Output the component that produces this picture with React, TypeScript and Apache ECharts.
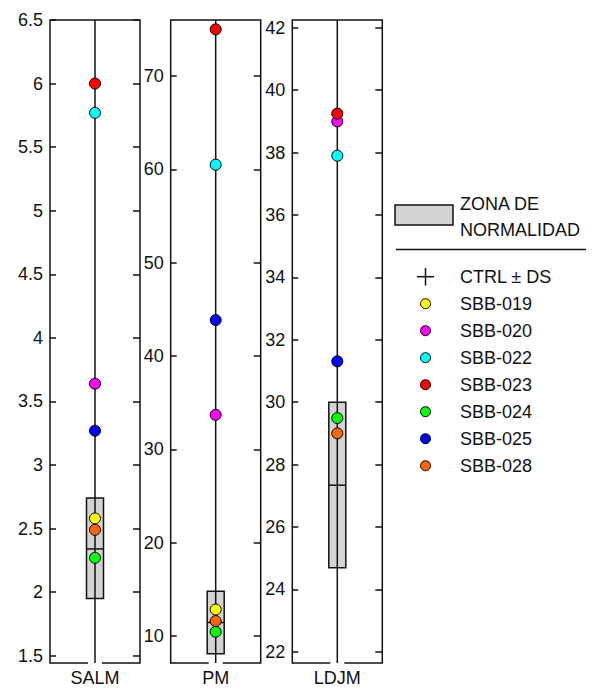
import React, { useEffect, useRef } from "react";
import * as echarts from "echarts";

const categories = ["SALM", "PM", "LDJM"];
const samples = ["SBB-019", "SBB-020", "SBB-022", "SBB-023", "SBB-024", "SBB-025", "SBB-028"];
const sampleColors = ["#ffff00", "#ff00ff", "#00ffff", "#ff0000", "#00ff00", "#0000ff", "#ff6600"];

const salmValues = [2.58, 3.64, 5.77, 6.0, 2.27, 3.27, 2.49];
const pmValues = [12.84, 33.7, 60.5, 75.0, 10.45, 43.85, 11.6];
const ldjmValues: (number | null)[] = [null, 39.0, 37.9, 39.25, 29.49, 31.31, 29.0];

const zoneLow = [1.95, 8.1, 24.69];
const zoneHigh = [2.74, 14.8, 30.0];
const ctrlMean = [2.34, 11.45, 27.34];

const salmTicks = [1.5, 2, 2.5, 3, 3.5, 4, 4.5, 5, 5.5, 6, 6.5];
const pmTicks = [10, 20, 30, 40, 50, 60, 70];
const ldjmTicks = [22, 24, 26, 28, 30, 32, 34, 36, 38, 40, 42];

const axisMin = [1.443, 7.11, 21.64];
const axisMax = [6.5, 76.0, 42.25];

const legendHeader = ["ZONA DE", "NORMALIDAD"];
const ctrlLabel = "CTRL ± DS";

const FONT = 'Arial, "Liberation Sans", sans-serif';
const INK = "#111";

export default function App() {
  const ref = useRef<HTMLDivElement>(null);
  useEffect(() => {
    if (!ref.current) return;
    const chart = echarts.init(ref.current, null, { renderer: "svg" });
    const valueSets = [salmValues, pmValues, ldjmValues];
    const tickSets = [salmTicks, pmTicks, ldjmTicks];
    const gridLefts = [50, 170.7, 292.3];

    const grids = gridLefts.map((l) => ({
      left: l,
      top: 20,
      width: 90,
      height: 643,
      show: true,
      borderColor: INK,
      borderWidth: 1.5,
      backgroundColor: "transparent",
    }));

    const xAxes = categories.map((c, i) => ({
      type: "category",
      gridIndex: i,
      data: [c],
      axisLine: { show: false },
      axisTick: { show: false },
      axisLabel: { color: INK, fontSize: 18, fontFamily: FONT, margin: 6 },
    }));

    const yAxes: any[] = [];
    categories.forEach((_, i) => {
      yAxes.push({
        type: "value",
        gridIndex: i,
        min: axisMin[i],
        max: axisMax[i],
        position: "left",
        splitLine: { show: false },
        axisLine: { show: false },
        axisTick: { show: true, inside: true, length: 6, customValues: tickSets[i], lineStyle: { color: INK, width: 1.5 } },
        axisLabel: { show: true, customValues: tickSets[i], color: INK, fontSize: 18, fontFamily: FONT, margin: 7 },
      });
      yAxes.push({
        type: "value",
        gridIndex: i,
        min: axisMin[i],
        max: axisMax[i],
        position: "right",
        splitLine: { show: false },
        axisLine: { show: false },
        axisTick: { show: true, inside: true, length: 7, customValues: tickSets[i], lineStyle: { color: INK, width: 1.5 } },
        axisLabel: { show: false },
      });
    });

    const series: any[] = [];
    categories.forEach((c, i) => {
      series.push({
        type: "custom",
        xAxisIndex: i,
        yAxisIndex: i * 2,
        z: 2,
        encode: { x: 0, y: [1, 2, 3] },
        data: [[0, zoneLow[i], zoneHigh[i], ctrlMean[i]]],
        renderItem: (params: any, api: any) => {
          const cs = params.coordSys;
          const pLow = api.coord([0, api.value(1)]);
          const pHigh = api.coord([0, api.value(2)]);
          const pMean = api.coord([0, api.value(3)]);
          const cx = pLow[0];
          const bottom = cs.y + cs.height;
          const hw = 8.5;
          return {
            type: "group",
            children: [
              { type: "rect", shape: { x: cx - 7, y: bottom - 2, width: 14, height: 4 }, style: { fill: "#fff" } },
              {
                type: "rect",
                shape: { x: cx - hw, y: pHigh[1], width: hw * 2, height: pLow[1] - pHigh[1] },
                style: { fill: "#d3d3d3", stroke: INK, lineWidth: 1.5 },
              },
              { type: "line", shape: { x1: cx, y1: cs.y, x2: cx, y2: bottom }, style: { stroke: INK, lineWidth: 1.5 } },
              { type: "line", shape: { x1: cx - hw, y1: pMean[1], x2: cx + hw, y2: pMean[1] }, style: { stroke: INK, lineWidth: 1.5 } },
            ],
          };
        },
      });
      const data: any[] = [];
      valueSets[i].forEach((v, j) => {
        if (v === null || v === undefined) return;
        data.push({ value: [0, v], itemStyle: { color: sampleColors[j] } });
      });
      series.push({
        type: "scatter",
        xAxisIndex: i,
        yAxisIndex: i * 2,
        z: 3,
        symbol: "circle",
        symbolSize: 11,
        itemStyle: { borderColor: "#000", borderWidth: 1, opacity: 1 },
        data,
      });
    });

    // Legend built from the sample arrays
    const lgX = 460;
    const graphic: any[] = [
      { type: "rect", shape: { x: 395, y: 205, width: 58, height: 20 }, style: { fill: "#d3d3d3", stroke: INK, lineWidth: 1.5 } },
      { type: "text", x: lgX, y: 203.5, style: { text: legendHeader[0], fill: INK, font: `18px ${FONT}`, textVerticalAlign: "middle" } },
      { type: "text", x: lgX, y: 229.5, style: { text: legendHeader[1], fill: INK, font: `18px ${FONT}`, textVerticalAlign: "middle" } },
      { type: "line", shape: { x1: 396, y1: 249.5, x2: 586, y2: 249.5 }, style: { stroke: INK, lineWidth: 1.5 } },
      { type: "line", shape: { x1: 417, y1: 276.7, x2: 434, y2: 276.7 }, style: { stroke: INK, lineWidth: 1.5 } },
      { type: "line", shape: { x1: 425.5, y1: 268, x2: 425.5, y2: 285.5 }, style: { stroke: INK, lineWidth: 1.5 } },
      { type: "text", x: lgX, y: 276.7, style: { text: ctrlLabel, fill: INK, font: `18px ${FONT}`, textVerticalAlign: "middle" } },
    ];
    samples.forEach((s, j) => {
      const y = 303.7 + j * 27;
      graphic.push({ type: "circle", shape: { cx: 425.5, cy: y, r: 5 }, style: { fill: sampleColors[j], stroke: "#000", lineWidth: 1 } });
      graphic.push({ type: "text", x: lgX, y, style: { text: s, fill: INK, font: `18px ${FONT}`, textVerticalAlign: "middle" } });
    });

    chart.setOption({
      animation: false,
      backgroundColor: "#fff",
      textStyle: { fontFamily: FONT },
      grid: grids,
      xAxis: xAxes,
      yAxis: yAxes,
      series,
      graphic,
    });
    return () => chart.dispose();
  }, []);
  return <div ref={ref} style={{ position: "fixed", left: 0, top: 0, width: 595, height: 688 }} />;
}
